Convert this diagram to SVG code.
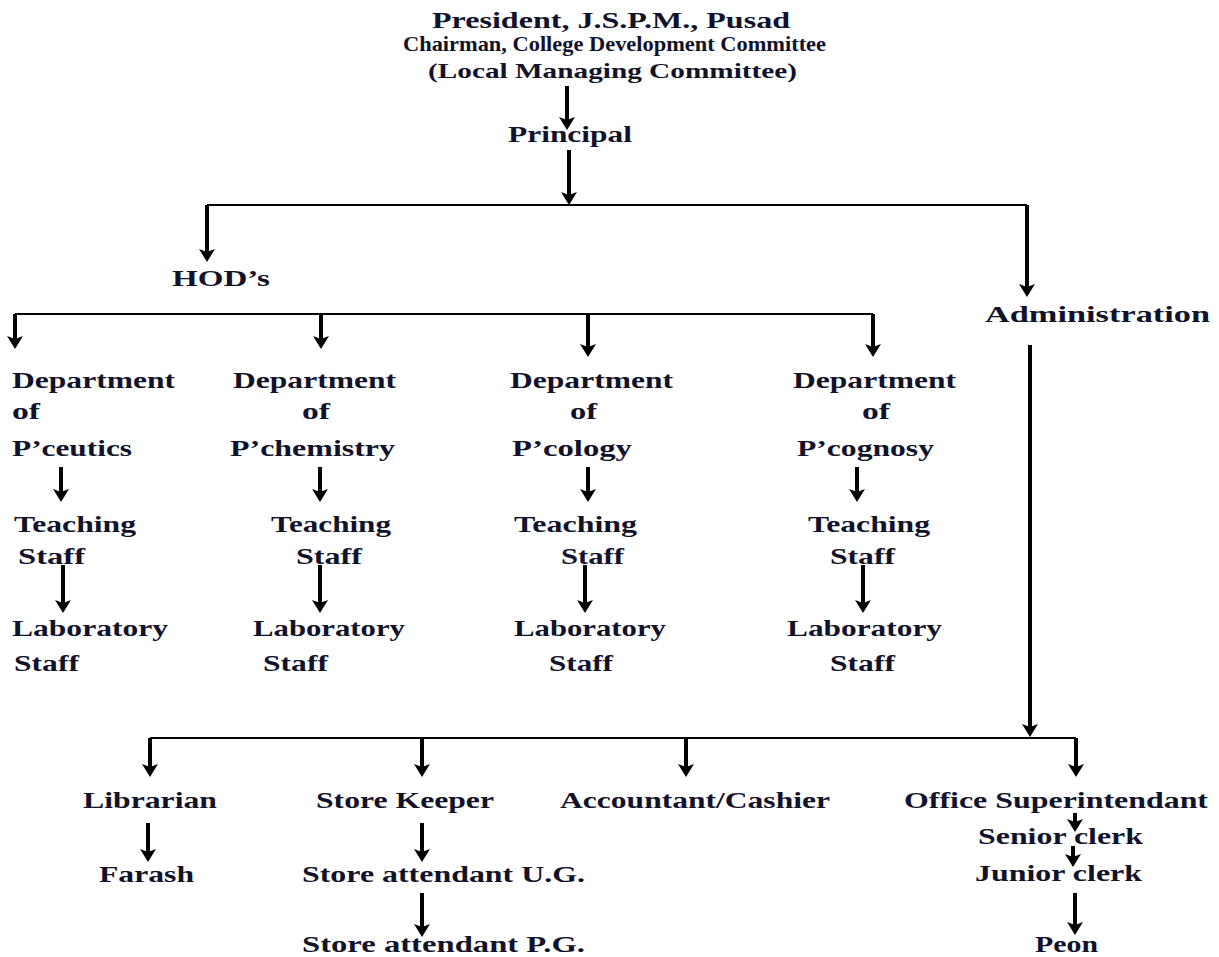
<svg xmlns="http://www.w3.org/2000/svg" width="1219" height="957" viewBox="0 0 1219 957">
<style>
text{font-family:"Liberation Serif","Times New Roman",serif;font-weight:bold;font-size:23px;fill:#12122a}
.s{font-size:22px}
.ln{fill:none;stroke:#000;stroke-width:2}
.ar{fill:none;stroke:#000;stroke-width:4;marker-end:url(#ah)}
</style>
<defs>
<marker id="ah" markerUnits="userSpaceOnUse" viewBox="0 0 13 16" markerWidth="13" markerHeight="16" refX="9" refY="8" orient="auto">
<path d="M0,0 L13,8 L0,16 L3,8 Z" fill="#000"/>
</marker>
</defs>
<rect width="1219" height="957" fill="#fff"/>
<g id="connectors">
<path class="ar" d="M567,86 V126"/>
<path class="ar" d="M569,150 V201"/>
<path class="ln" d="M207,205 H1027"/>
<path class="ar" d="M207,205 V258"/>
<path class="ar" d="M1027,205 V293"/>
<path class="ln" d="M15,314 H873"/>
<path class="ar" d="M15,314 V345"/>
<path class="ar" d="M321,314 V345"/>
<path class="ar" d="M588,314 V353"/>
<path class="ar" d="M873,314 V353"/>
<path class="ar" d="M61,467 V498"/>
<path class="ar" d="M320,467 V498"/>
<path class="ar" d="M588,467 V498"/>
<path class="ar" d="M857,467 V498"/>
<path class="ar" d="M63,565 V609"/>
<path class="ar" d="M320,565 V609"/>
<path class="ar" d="M585,565 V609"/>
<path class="ar" d="M863,565 V609"/>
<path class="ar" d="M1030,345 V733"/>
<path class="ln" d="M150,738 H1076"/>
<path class="ar" d="M150,738 V773"/>
<path class="ar" d="M422,738 V773"/>
<path class="ar" d="M686,738 V773"/>
<path class="ar" d="M1076,738 V773"/>
<path class="ar" d="M148,823 V858"/>
<path class="ar" d="M422,823 V858"/>
<path class="ar" d="M422,893 V933"/>
<path class="ar" d="M1075,813 V828"/>
<path class="ar" d="M1073,846 V863"/>
<path class="ar" d="M1075,893 V931"/>
</g>
<g id="president">
<text x="432" y="28" textLength="358" lengthAdjust="spacingAndGlyphs">President, J.S.P.M., Pusad</text>
<text class="s" x="403" y="51" textLength="423" lengthAdjust="spacingAndGlyphs">Chairman, College Development Committee</text>
<text class="s" x="428" y="78" textLength="369" lengthAdjust="spacingAndGlyphs">(Local Managing Committee)</text>
</g>
<g id="principal"><text x="508" y="142" textLength="124" lengthAdjust="spacingAndGlyphs">Principal</text></g>
<g id="hods"><text x="172" y="286" textLength="98" lengthAdjust="spacingAndGlyphs">HOD’s</text></g>
<g id="administration"><text x="985" y="322" textLength="225" lengthAdjust="spacingAndGlyphs">Administration</text></g>
<g id="dept-pceutics">
<text x="12" y="388" textLength="163" lengthAdjust="spacingAndGlyphs">Department</text>
<text x="12" y="419" textLength="28" lengthAdjust="spacingAndGlyphs">of</text>
<text x="12" y="456" textLength="120" lengthAdjust="spacingAndGlyphs">P’ceutics</text>
</g>
<g id="teaching-pceutics">
<text x="14" y="532" textLength="122" lengthAdjust="spacingAndGlyphs">Teaching</text>
<text x="18" y="564" textLength="67" lengthAdjust="spacingAndGlyphs">Staff</text>
</g>
<g id="lab-pceutics">
<text x="12" y="636" textLength="156" lengthAdjust="spacingAndGlyphs">Laboratory</text>
<text x="14" y="671" textLength="65" lengthAdjust="spacingAndGlyphs">Staff</text>
</g>
<g id="dept-pchemistry">
<text x="233" y="388" textLength="163" lengthAdjust="spacingAndGlyphs">Department</text>
<text x="302" y="419" textLength="28" lengthAdjust="spacingAndGlyphs">of</text>
<text x="230" y="456" textLength="165" lengthAdjust="spacingAndGlyphs">P’chemistry</text>
</g>
<g id="teaching-pchemistry">
<text x="271" y="532" textLength="120" lengthAdjust="spacingAndGlyphs">Teaching</text>
<text x="296" y="564" textLength="66" lengthAdjust="spacingAndGlyphs">Staff</text>
</g>
<g id="lab-pchemistry">
<text x="253" y="636" textLength="152" lengthAdjust="spacingAndGlyphs">Laboratory</text>
<text x="263" y="671" textLength="65" lengthAdjust="spacingAndGlyphs">Staff</text>
</g>
<g id="dept-pcology">
<text x="510" y="388" textLength="163" lengthAdjust="spacingAndGlyphs">Department</text>
<text x="570" y="419" textLength="27" lengthAdjust="spacingAndGlyphs">of</text>
<text x="512" y="456" textLength="120" lengthAdjust="spacingAndGlyphs">P’cology</text>
</g>
<g id="teaching-pcology">
<text x="514" y="532" textLength="123" lengthAdjust="spacingAndGlyphs">Teaching</text>
<text x="561" y="564" textLength="63" lengthAdjust="spacingAndGlyphs">Staff</text>
</g>
<g id="lab-pcology">
<text x="514" y="636" textLength="152" lengthAdjust="spacingAndGlyphs">Laboratory</text>
<text x="549" y="671" textLength="64" lengthAdjust="spacingAndGlyphs">Staff</text>
</g>
<g id="dept-pcognosy">
<text x="793" y="388" textLength="163" lengthAdjust="spacingAndGlyphs">Department</text>
<text x="862" y="419" textLength="28" lengthAdjust="spacingAndGlyphs">of</text>
<text x="797" y="456" textLength="137" lengthAdjust="spacingAndGlyphs">P’cognosy</text>
</g>
<g id="teaching-pcognosy">
<text x="808" y="532" textLength="122" lengthAdjust="spacingAndGlyphs">Teaching</text>
<text x="830" y="564" textLength="65" lengthAdjust="spacingAndGlyphs">Staff</text>
</g>
<g id="lab-pcognosy">
<text x="787" y="636" textLength="155" lengthAdjust="spacingAndGlyphs">Laboratory</text>
<text x="830" y="671" textLength="65" lengthAdjust="spacingAndGlyphs">Staff</text>
</g>
<g id="librarian"><text x="83" y="808" textLength="134" lengthAdjust="spacingAndGlyphs">Librarian</text></g>
<g id="farash"><text x="99" y="882" textLength="95" lengthAdjust="spacingAndGlyphs">Farash</text></g>
<g id="store-keeper"><text x="316" y="808" textLength="178" lengthAdjust="spacingAndGlyphs">Store Keeper</text></g>
<g id="store-ug"><text x="302" y="882" textLength="283" lengthAdjust="spacingAndGlyphs">Store attendant U.G.</text></g>
<g id="store-pg"><text x="302" y="952" textLength="283" lengthAdjust="spacingAndGlyphs">Store attendant P.G.</text></g>
<g id="accountant"><text x="560" y="808" textLength="270" lengthAdjust="spacingAndGlyphs">Accountant/Cashier</text></g>
<g id="office-superintendant"><text x="904" y="808" textLength="304" lengthAdjust="spacingAndGlyphs">Office Superintendant</text></g>
<g id="senior-clerk"><text x="978" y="844" textLength="165" lengthAdjust="spacingAndGlyphs">Senior clerk</text></g>
<g id="junior-clerk"><text x="975" y="881" textLength="167" lengthAdjust="spacingAndGlyphs">Junior clerk</text></g>
<g id="peon"><text x="1035" y="952" textLength="63" lengthAdjust="spacingAndGlyphs">Peon</text></g>
</svg>
